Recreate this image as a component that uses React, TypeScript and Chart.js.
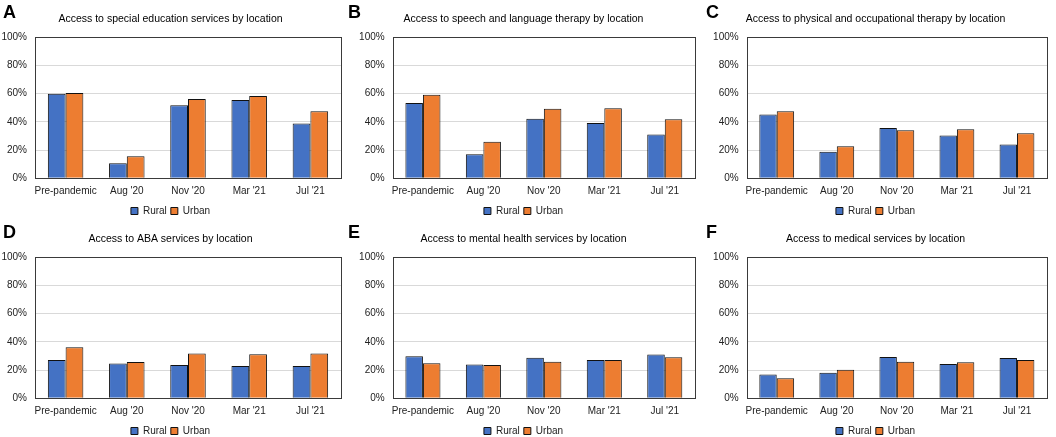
import React, { useEffect, useRef } from "react";
import { Chart, registerables } from "chart.js";

Chart.register(...registerables);

const categories = ["Pre-pandemic", "Aug '20", "Nov '20", "Mar '21", "Jul '21"];
const seriesNames = ["Rural", "Urban"];
const yTickValues = [0, 20, 40, 60, 80, 100];

const ruralA = [60, 10.6, 51.8, 55.6, 38.8];
const urbanA = [60.5, 15.6, 56.3, 58.4, 47.5];
const ruralB = [53.4, 17, 42.3, 39.2, 31];
const urbanB = [59.3, 26, 49.4, 49.6, 41.8];
const ruralC = [45.2, 18.9, 35.7, 30.3, 23.9];
const urbanC = [47.5, 22.7, 34, 34.8, 31.9];
const ruralD = [27.2, 24.6, 23.6, 22.9, 22.9];
const urbanD = [36.2, 25.8, 31.7, 31.2, 31.7];
const ruralE = [29.8, 23.9, 28.8, 27.2, 31];
const urbanE = [24.8, 23.6, 26, 27.2, 29.1];
const ruralF = [16.8, 18.2, 29.3, 24.3, 28.6];
const urbanF = [14.2, 20.3, 26, 25.5, 27.2];

const letters = ["A", "B", "C", "D", "E", "F"];
const titles = [
  "Access to special education services by location",
  "Access to speech and language therapy by location",
  "Access to physical and occupational therapy by location",
  "Access to ABA services by location",
  "Access to mental health services by location",
  "Access to medical services by location",
];
const ruralSeries = [ruralA, ruralB, ruralC, ruralD, ruralE, ruralF];
const urbanSeries = [urbanA, urbanB, urbanC, urbanD, urbanE, urbanF];

const FONT = '"Liberation Sans", Arial, Helvetica, sans-serif';
const BLUE = "#4472C4";
const ORANGE = "#ED7D31";

const CANVAS_W = 352;
const CANVAS_H = 226;

const framePlugin = {
  id: "frame",
  afterDraw(chart: any) {
    const { ctx, chartArea } = chart;
    ctx.save();
    ctx.strokeStyle = "#3a3a3a";
    ctx.lineWidth = 1;
    ctx.strokeRect(
      Math.round(chartArea.left) + 0.5,
      Math.round(chartArea.top) + 0.5,
      Math.round(chartArea.right - chartArea.left),
      Math.round(chartArea.bottom - chartArea.top)
    );
    ctx.restore();
  },
};

type PanelProps = {
  title: string;
  rural: number[];
  urban: number[];
  yWidth: number;
  padRight: number;
  left: number;
  top: number;
};

function Panel({ title, rural, urban, yWidth, padRight, left, top }: PanelProps) {
  const ref = useRef<HTMLCanvasElement | null>(null);
  useEffect(() => {
    if (!ref.current) return;
    const chart = new Chart(ref.current, {
      type: "bar",
      data: {
        labels: categories,
        datasets: [
          {
            label: seriesNames[0],
            data: rural,
            backgroundColor: BLUE,
            borderColor: "#111",
            borderWidth: 1,
            categoryPercentage: 0.58,
            barPercentage: 1,
          },
          {
            label: seriesNames[1],
            data: urban,
            backgroundColor: ORANGE,
            borderColor: "#111",
            borderWidth: 1,
            categoryPercentage: 0.58,
            barPercentage: 1,
          },
        ],
      },
      options: {
        responsive: false,
        animation: false,
        devicePixelRatio: 1,
        layout: { padding: { left: 0, right: padRight, top: 0, bottom: 0 } },
        plugins: {
          title: {
            display: true,
            text: title,
            color: "#000",
            font: { family: FONT, size: 10.5, weight: "normal" },
            padding: { top: 13, bottom: 11.7 },
          },
          legend: {
            display: true,
            position: "bottom",
            labels: {
              boxWidth: 7,
              boxHeight: 7,
              padding: 4,
              color: "#222",
              font: { family: FONT, size: 10 },
            },
          },
          tooltip: { enabled: false },
        },
        scales: {
          x: {
            grid: { display: false, drawTicks: false },
            border: { display: false },
            ticks: {
              color: "#222",
              font: { family: FONT, size: 10 },
              padding: 7,
              maxRotation: 0,
              autoSkip: false,
            },
            afterFit: (axis: any) => {
              axis.height = 23.7;
            },
          },
          y: {
            min: 0,
            max: 100,
            grid: { color: "#d9d9d9", drawTicks: false },
            border: { display: false },
            afterBuildTicks: (axis: any) => {
              axis.ticks = yTickValues.map((v) => ({ value: v }));
            },
            ticks: {
              color: "#222",
              font: { family: FONT, size: 10 },
              padding: 8,
              callback: (v: any) => v + "%",
            },
            afterFit: (axis: any) => {
              axis.width = yWidth;
            },
          },
        },
      },
      plugins: [framePlugin],
    } as any);
    return () => chart.destroy();
  }, [title, rural, urban, yWidth, padRight]);

  return (
    <canvas
      ref={ref}
      width={CANVAS_W}
      height={CANVAS_H}
      style={{ position: "absolute", left, top, width: CANVAS_W, height: CANVAS_H }}
    />
  );
}

const yWidths = [35, 40.7, 42.7];
const padRights = [11, 9, 9];
const colLefts = [0, 352, 704];
const rowTops = [0, 220];
const letterLefts = [3, 348, 706];

export default function App() {
  return (
    <div
      style={{
        position: "absolute",
        left: 0,
        top: 0,
        width: 1056,
        height: 437,
        overflow: "hidden",
        background: "#fff",
      }}
    >
      {titles.map((t, i) => {
        const col = i % 3;
        const row = Math.floor(i / 3);
        return (
          <Panel
            key={i}
            title={t}
            rural={ruralSeries[i]}
            urban={urbanSeries[i]}
            yWidth={yWidths[col]}
            padRight={padRights[col]}
            left={colLefts[col]}
            top={rowTops[row]}
          />
        );
      })}
      {letters.map((l, i) => {
        const col = i % 3;
        const row = Math.floor(i / 3);
        return (
          <div
            key={l}
            style={{
              position: "absolute",
              left: letterLefts[col],
              top: rowTops[row] + 2.7,
              fontFamily: FONT,
              fontWeight: "bold",
              fontSize: 18,
              lineHeight: "18px",
              color: "#000",
            }}
          >
            {l}
          </div>
        );
      })}
    </div>
  );
}
